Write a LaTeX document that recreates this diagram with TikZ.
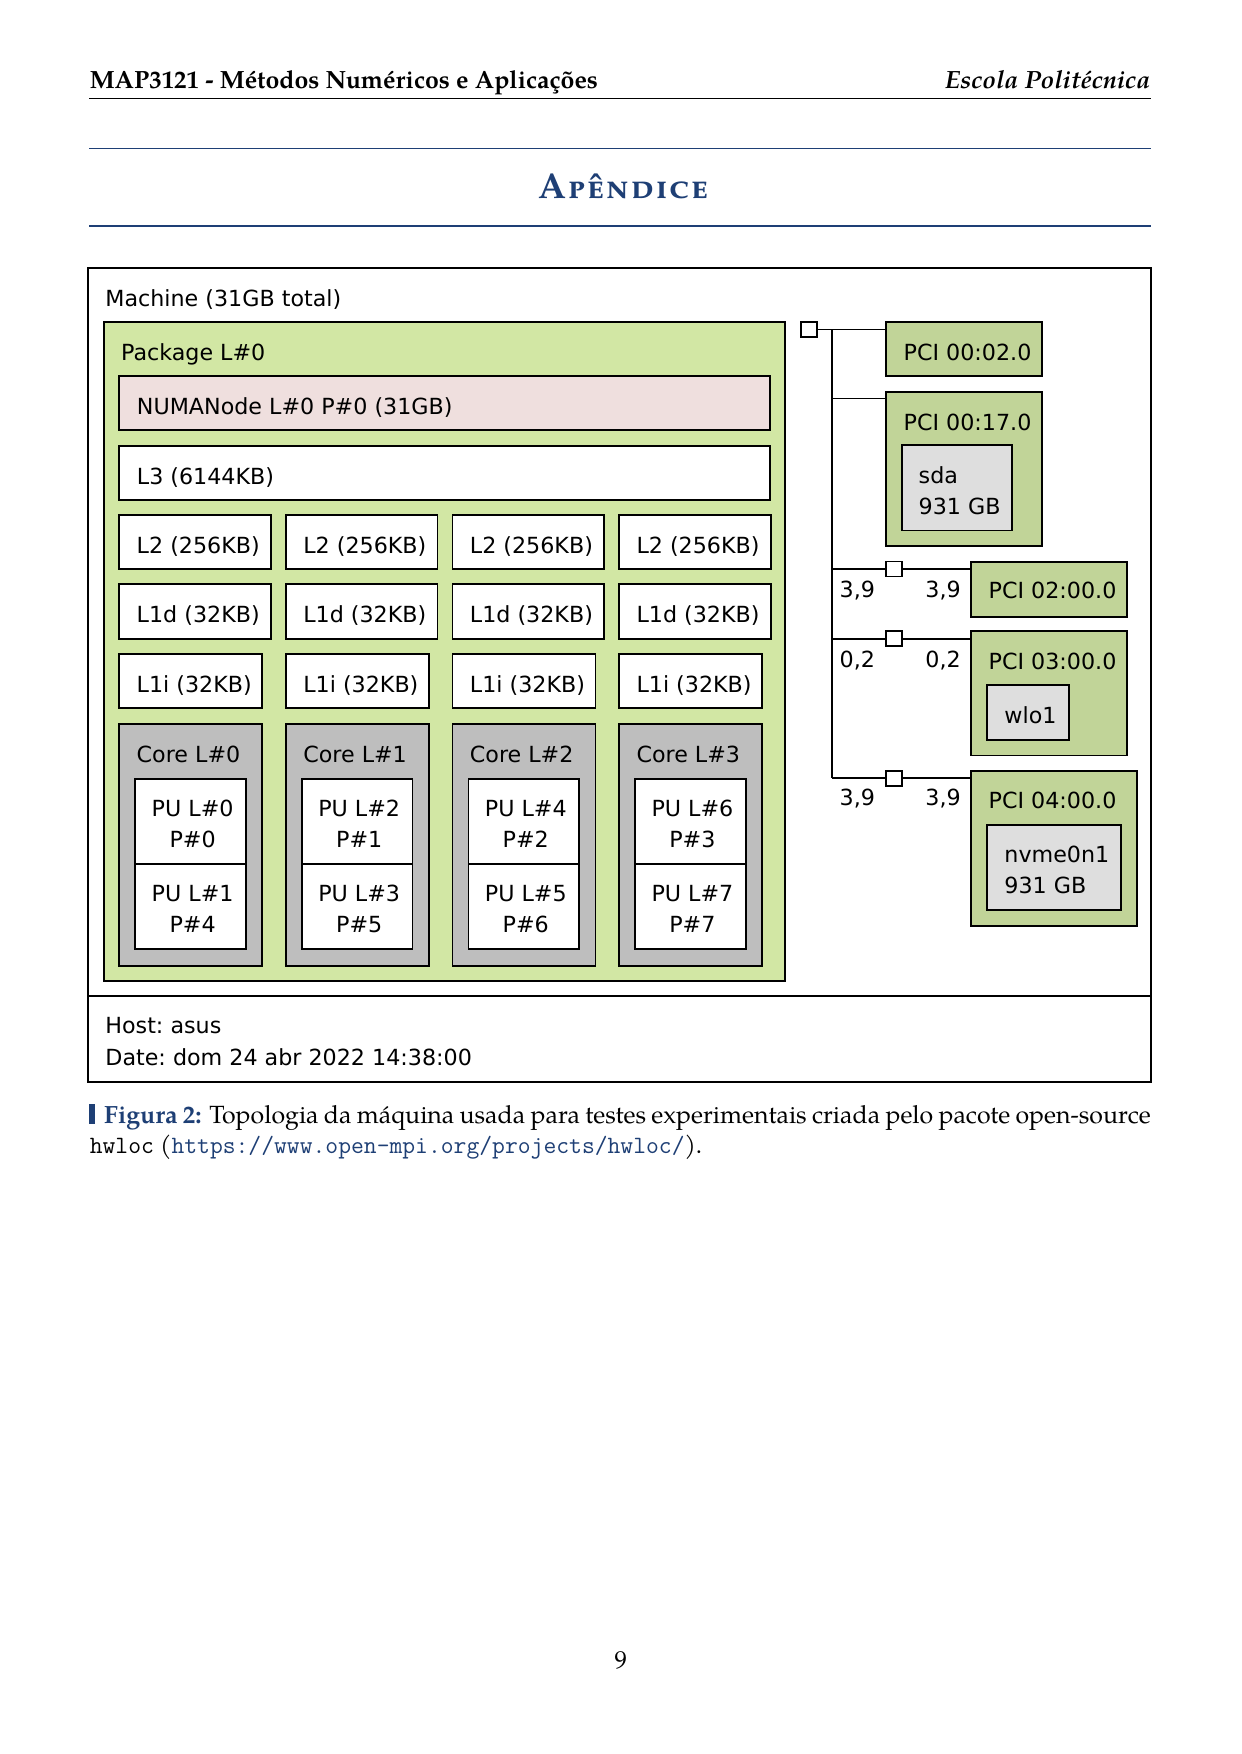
\documentclass[tikz,border=0pt]{standalone}
\usepackage{fontspec}
\setmainfont{TeX Gyre Pagella}
\newfontfamily\hw{DejaVu Sans}
\usetikzlibrary{fit}
\definecolor{pkg}{RGB}{210,231,164}
\definecolor{numa}{RGB}{239,223,222}
\definecolor{corec}{RGB}{190,190,190}
\definecolor{pcic}{RGB}{193,212,152}
\definecolor{osdev}{RGB}{222,222,222}
\definecolor{navy}{RGB}{30,63,117}
\newdimen\px \px=0.4818pt
\newcommand\bx[6]{\node[box, fill=#6, fit={(#2,#3) (#4,#5)}] (#1) {};}
\tikzset{
  box/.style={draw, line width=0.8pt, inner sep=0pt, outer sep=0pt},
  lbl/.style={font=\hw\fontsize{10.7}{12}\selectfont\frenchspacing, inner sep=0pt, anchor=base west},
  lblc/.style={lbl, anchor=base},
  conn/.style={draw, line width=0.8pt},
  serif/.style={font=\fontsize{12}{14.5}\selectfont, inner sep=0pt},
}
\begin{document}
\begin{tikzpicture}[x=0.4818pt, y=-0.4818pt]
\useasboundingbox[fill=white] (0,0) rectangle (1241,1754);

% header
\node[serif, anchor=base west] (hl) at (89.4,88.3) {\bfseries MAP3121 - Métodos Numéricos e Aplicações};
\node[serif, anchor=base east] (hr) at (1150.5,88.3) {\bfseries\itshape Escola Politécnica};
\draw[line width=0.5pt] (89.4,98.3) coordinate (hra) -- (1150.5,98.3) coordinate (hrb);

% title
\draw[navy, line width=0.5pt] (89.4,148.3) coordinate (t1a) -- (1150.5,148.3) coordinate (t1b);
\draw[navy, line width=0.5pt] (89.4,226) coordinate (t2a) -- (1150.5,226) coordinate (t2b);
\node[inner sep=0pt, anchor=base, text=navy, font=\fontsize{17.28}{20}\selectfont\bfseries\scshape\addfontfeature{LetterSpace=6}] (title) at (623,198.8) {Apêndice};

% machine
\bx{machine}{88.3}{268.3}{1151}{1081.7}{white}
\draw[line width=0.8pt] (machine.west |- 0,996) coordinate (sepa) -- (machine.east |- 0,996) coordinate (sepb);
\node[lbl] (machinet) at (105,306.7) {Machine (31GB total)};
\node[lbl] (host) at (105,1033.3) {Host: asus};
\node[lbl] (date) at (105,1065) {Date: dom 24 abr 2022 14:38:00};

% package
\bx{package}{104}{321.7}{785}{980.7}{pkg}
\node[lbl] (packaget) at (120.7,360) {Package L\#0};
\bx{numa}{119.3}{376}{770}{430}{numa}
\node[lbl] (numat) at (136.5,414) {NUMANode L\#0 P\#0 (31GB)};
\bx{l3}{119.3}{445.7}{770}{500}{white}
\node[lbl] (l3t) at (136.5,484) {L3 (6144KB)};

\foreach \c [evaluate=\c as \xa using 119.3+166.6*\c,
             evaluate=\c as \pa using int(2*\c),
             evaluate=\c as \pb using int(2*\c+1),
             evaluate=\c as \pc using int(\c+4)] in {0,...,3}{
  \bx{l2-\c}{\xa}{515}{\xa+151.7}{569.3}{white}
  \node[lbl] (l2t-\c) at (\xa+17,553.3) {L2 (256KB)};
  \bx{l1d-\c}{\xa}{584.3}{\xa+151.7}{639.3}{white}
  \node[lbl] (l1dt-\c) at (\xa+17,622.6) {L1d (32KB)};
  \bx{l1i-\c}{\xa}{654.3}{\xa+143}{708.3}{white}
  \node[lbl] (l1it-\c) at (\xa+17,692.6) {L1i (32KB)};
  \bx{core-\c}{\xa}{724}{\xa+143}{965.7}{corec}
  \node[lbl] (coret-\c) at (\xa+17,762.3) {Core L\#\c};
  \bx{pua-\c}{\xa+16}{778.7}{\xa+126.7}{864}{white}
  \bx{pub-\c}{\xa+16}{864}{\xa+126.7}{949}{white}
  \node[lblc] (puat-\c) at (\xa+73.3,816) {PU L\#\pa};
  \node[lblc] (puat2-\c) at (\xa+73.3,847.3) {P\#\c};
  \node[lblc] (pubt-\c) at (\xa+73.3,901.7) {PU L\#\pb};
  \node[lblc] (pubt2-\c) at (\xa+73.3,932.3) {P\#\pc};
}

% PCI tree
\bx{sq0}{800.7}{322}{816.7}{337}{white}
\bx{pci1}{886}{321.9}{1041.7}{375.8}{pcic}
\node[lbl] (pci1t) at (903.3,360) {PCI 00:02.0};
\bx{pci2}{886}{391.9}{1041.7}{546.3}{pcic}
\node[lbl] (pci2t) at (903.3,430.4) {PCI 00:17.0};
\bx{sda}{901.7}{444.9}{1012.3}{530.6}{osdev}
\node[lbl] (sdat1) at (918.3,483.4) {sda};
\node[lbl] (sdat2) at (918.3,514.5) {931 GB};

\bx{sq1}{886}{561.6}{902.3}{576.6}{white}
\bx{pci3}{971}{562}{1127.3}{616.7}{pcic}
\node[lbl] (pci3t) at (988.3,598.9) {PCI 02:00.0};
\node[lbl] (lab1a) at (839.3,597.3) {3,9};
\node[lbl] (lab1b) at (925,597.3) {3,9};

\bx{sq2}{886}{631.2}{902.3}{646.2}{white}
\bx{pci4}{971}{631.2}{1127.3}{755.4}{pcic}
\node[lbl] (pci4t) at (988.3,669.3) {PCI 03:00.0};
\bx{wlo}{986.7}{685}{1069}{739.7}{osdev}
\node[lbl] (wlot) at (1004,723.1) {wlo1};
\node[lbl] (lab2a) at (839.3,667.2) {0,2};
\node[lbl] (lab2b) at (925,667.2) {0,2};

\bx{sq3}{886}{770.7}{902.3}{785.7}{white}
\bx{pci5}{971}{770.7}{1136.7}{926}{pcic}
\node[lbl] (pci5t) at (988.3,808.4) {PCI 04:00.0};
\bx{nvme}{986.7}{825}{1120.7}{909.8}{osdev}
\node[lbl] (nvmet1) at (1004,862.2) {nvme0n1};
\node[lbl] (nvmet2) at (1004,893.3) {931 GB};
\node[lbl] (lab3a) at (839.3,805.9) {3,9};
\node[lbl] (lab3b) at (925,805.9) {3,9};

\coordinate (bus0) at (832.3,329.5);
\coordinate (bus1) at (832.3,398.5);
\coordinate (bus2) at (832.3,569.1);
\coordinate (bus3) at (832.3,638.7);
\coordinate (bus4) at (832.3,778.2);
\draw[conn] (sq0.east) -- (sq0.east -| pci1.west);
\draw[conn] (bus0) -- (bus4);
\draw[conn] (bus1) -- (bus1 -| pci2.west);
\draw[conn] (bus2) -- (sq1.west |- bus2);
\draw[conn] (sq1.east |- bus2) -- (bus2 -| pci3.west);
\draw[conn] (bus3) -- (sq2.west |- bus3);
\draw[conn] (sq2.east |- bus3) -- (bus3 -| pci4.west);
\draw[conn] (bus4) -- (sq3.west |- bus4);
\draw[conn] (sq3.east |- bus4) -- (bus4 -| pci5.west);

% caption
\fill[navy] (88.5,1104) rectangle (95,1124) node[coordinate] (capbar) {};
\node[serif, anchor=base west] (cap1) at (103.8,1123.3) {\makebox[1046.7\px][s]{{\color{navy}\bfseries Figura 2:} Topologia da máquina usada para testes experimentais criada pelo pacote open-source}};
\node[serif, anchor=base west] (cap2) at (89.4,1153) {\texttt{hwloc} (\textcolor{navy}{\texttt{https://www.open-mpi.org/projects/hwloc/}}).};

% page number
\node[serif, anchor=base] (pagenum) at (620.5,1663.4) {\addfontfeature{Numbers=OldStyle}9};
\end{tikzpicture}
\end{document}
